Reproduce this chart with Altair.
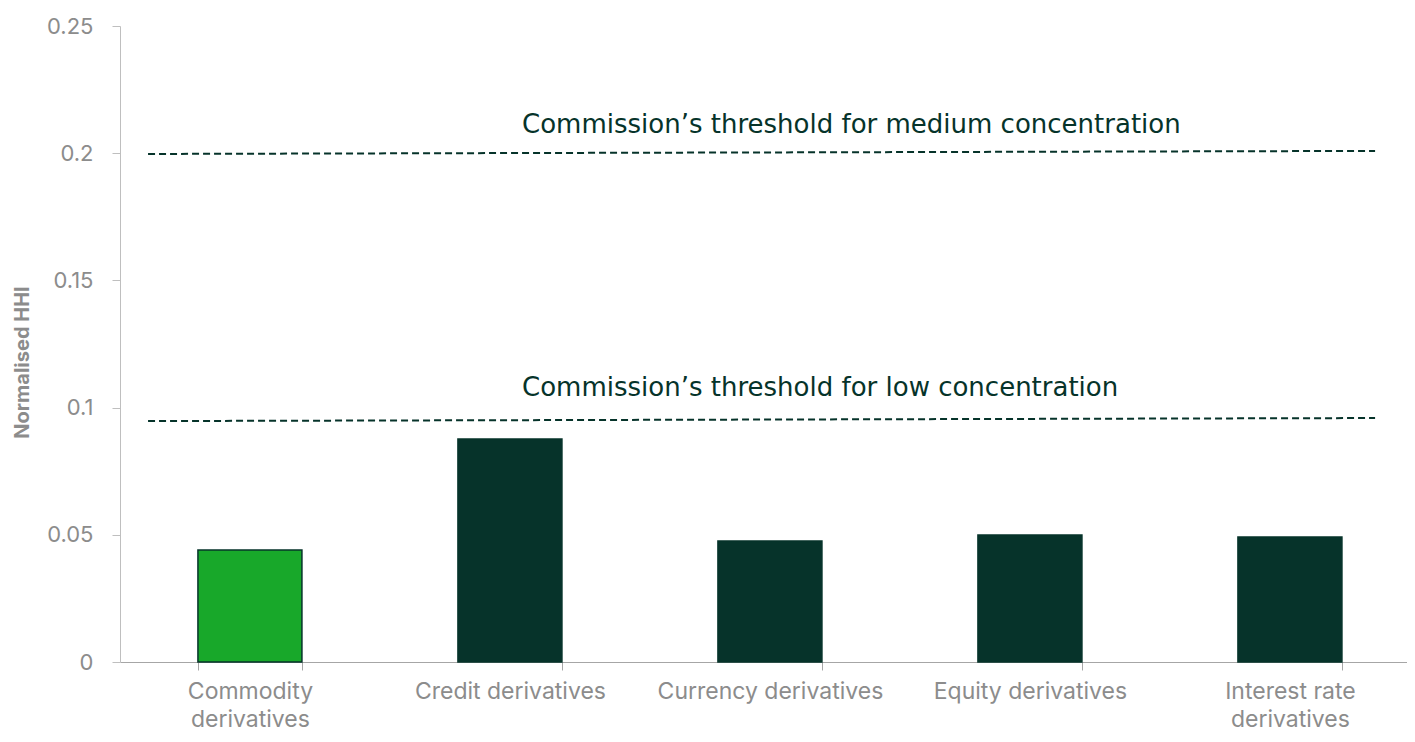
import altair as alt
import pandas as pd

# ---- data ----
categories = ["Commodity derivatives", "Credit derivatives", "Currency derivatives",
              "Equity derivatives", "Interest rate derivatives"]
hhi = [0.044, 0.0877, 0.0476, 0.0499, 0.0491]
groups = ["highlight", "other", "other", "other", "other"]

threshold_names = ["medium", "medium", "low", "low"]
threshold_pos = [0.109, 4.876, 0.109, 4.876]
threshold_values = [0.1997, 0.2009, 0.0947, 0.0959]

note_texts = ["Commission’s threshold for medium concentration",
              "Commission’s threshold for low concentration"]
note_pos = [1.562, 1.562]
note_values = [0.2112, 0.1078]

y_ticks = [0, 0.05, 0.1, 0.15, 0.2, 0.25]

GREEN = "#18a82a"
DARK = "#06332a"
GREY = "#8c8c8c"
FONT = "Inter"
NOTE_FONT = "DejaVu Sans"

bars_df = pd.DataFrame({"category": categories, "hhi": hhi, "group": groups})
thr_df = pd.DataFrame({"name": threshold_names, "pos": threshold_pos, "value": threshold_values})
note_df = pd.DataFrame({"text": note_texts, "pos": note_pos, "value": note_values})

W, H = 1287, 636

y_scale = alt.Scale(domain=[0, 0.25], nice=False)

bars = alt.Chart(bars_df).mark_bar(stroke=DARK, strokeWidth=1.5).encode(
    x=alt.X("category:N", sort=categories, title=None,
            scale=alt.Scale(paddingInner=0.6, paddingOuter=0.275, align=0.545),
            axis=alt.Axis(labelAngle=0, tickBand="extent", tickSize=8, tickColor="#a6a6a6",
                          domainColor="#a6a6a6", labelColor=GREY, labelFont=FONT,
                          labelFontSize=23, labelPadding=10, labelLineHeight=28,
                          labelLimit=400,
                          labelExpr="datum.label == 'Commodity derivatives' ? ['Commodity', 'derivatives'] : datum.label == 'Interest rate derivatives' ? ['Interest rate', 'derivatives'] : datum.label")),
    y=alt.Y("hhi:Q", scale=y_scale, title="Normalised HHI",
            axis=alt.Axis(values=y_ticks, format="~g", grid=False, tickSize=8,
                          tickColor="#bfbfbf", domainColor="#bfbfbf", labelColor=GREY,
                          labelFont=FONT, labelFontSize=22, labelPadding=19,
                          titleColor=GREY, titleFont=FONT, titleFontSize=20,
                          titleFontWeight="bold", titleX=-98, titleY=336,
                          titleAlign="center", titleBaseline="middle")),
    color=alt.Color("group:N", scale=alt.Scale(domain=["highlight", "other"], range=[GREEN, DARK]),
                    legend=None),
)

x_q = alt.X("pos:Q", scale=alt.Scale(domain=[0, 5], nice=False), axis=None)

lines = alt.Chart(thr_df).mark_line(color=DARK, strokeWidth=2, strokeDash=[7, 4]).encode(
    x=x_q,
    y=alt.Y("value:Q", scale=y_scale),
    detail="name:N",
)

notes = alt.Chart(note_df).mark_text(align="left", baseline="middle", color=DARK,
                                     font=NOTE_FONT, fontSize=26).encode(
    x=x_q,
    y=alt.Y("value:Q", scale=y_scale),
    text="text:N",
)

overlay = alt.layer(lines, notes)

chart = alt.layer(bars, overlay).resolve_scale(x="independent").properties(
    width=W, height=H,
    autosize=alt.AutoSizeParams(type="none"),
    padding={"left": 112, "top": 18, "right": 0, "bottom": 72},
).configure_view(stroke=None)

chart.save("out.html", embed_options={"renderer": "svg", "actions": False})
